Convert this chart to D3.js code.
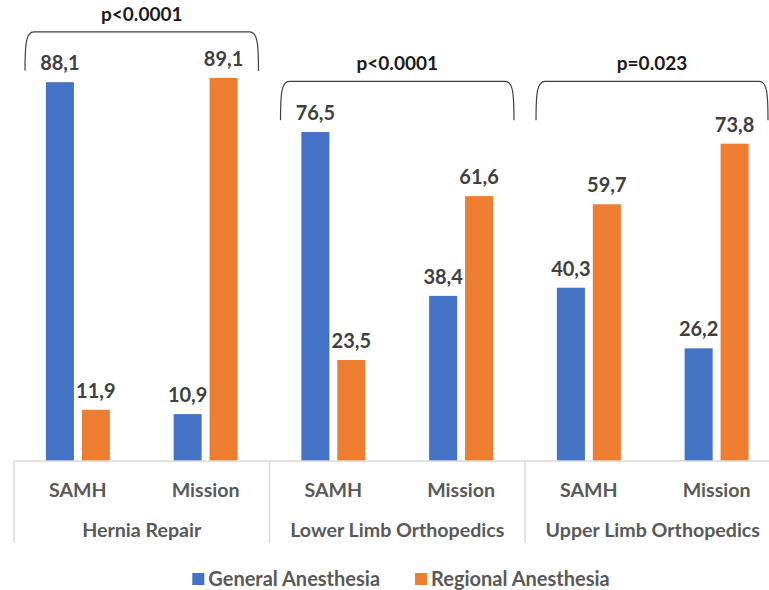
<!DOCTYPE html>
<html>
<head>
<meta charset="utf-8">
<script src="https://cdn.jsdelivr.net/npm/d3@7"></script>
<style>
  body { margin: 0; background: #fff; }
  text { font-family: Lato, "Open Sans", sans-serif; font-weight: bold; }
</style>
</head>
<body>
<div id="chart"></div>
<script>
// data
var groups = ["Hernia Repair", "Lower Limb Orthopedics", "Upper Limb Orthopedics"];
var sites = ["SAMH", "Mission"];
var seriesNames = ["General Anesthesia", "Regional Anesthesia"];
var generalValues = [88.1, 10.9, 76.5, 38.4, 40.3, 26.2];
var regionalValues = [11.9, 89.1, 23.5, 61.6, 59.7, 73.8];
var pValues = ["p<0.0001", "p<0.0001", "p=0.023"];

var colors = ["#4472C4", "#ED7D31"];
var width = 769, height = 590;

// layout
var baseY = 461, topY = 31;
var plotLeft = 14, plotRight = 780.5;   // last group runs past the right edge
var bracketLevel = [99.8, 88.3, 88.3];  // top of each bracket, in value units
var bracketDrop = 39;

var svg = d3.select("#chart")
  .append("svg")
    .attr("width", width)
    .attr("height", height);

// one band per group/site pair
var subcats = [];
groups.forEach(function(g, gi) {
  sites.forEach(function(s, si) {
    subcats.push({ id: gi + "-" + si, group: g, gi: gi, site: s });
  });
});

var x0 = d3.scaleBand()
  .domain(subcats.map(function(d) { return d.id; }))
  .range([plotLeft, plotRight])
  .padding(0);

var xg = d3.scaleBand()
  .domain(groups)
  .range([plotLeft, plotRight])
  .padding(0);

var x1 = d3.scaleBand()
  .domain(seriesNames)
  .range([x0.bandwidth() / 2 - 32, x0.bandwidth() / 2 + 32])
  .paddingInner(0.22);

var y = d3.scaleLinear()
  .domain([0, 100])
  .range([baseY, topY]);

// bars
var barData = [];
subcats.forEach(function(d, i) {
  barData.push({ id: d.id, s: seriesNames[0], v: generalValues[i], c: colors[0] });
  barData.push({ id: d.id, s: seriesNames[1], v: regionalValues[i], c: colors[1] });
});

var bars = svg.append("g");
bars.selectAll("rect")
  .data(barData)
  .enter()
  .append("rect")
    .attr("x", function(d) { return x0(d.id) + x1(d.s); })
    .attr("y", function(d) { return y(d.v); })
    .attr("width", x1.bandwidth())
    .attr("height", function(d) { return y(0) - y(d.v); })
    .attr("fill", function(d) { return d.c; });

// value labels
bars.selectAll(".val")
  .data(barData)
  .enter()
  .append("text")
    .attr("class", "val")
    .attr("x", function(d) { return x0(d.id) + x1(d.s) + x1.bandwidth() / 2; })
    .attr("y", function(d) { return y(d.v) - 12; })
    .attr("text-anchor", "middle")
    .style("font-size", "20px")
    .style("fill", "#404040")
    .text(function(d) { return d3.format(".1f")(d.v).replace(".", ","); });

// x axis with site names
var xAxis = svg.append("g")
  .attr("transform", "translate(0," + baseY + ")")
  .call(d3.axisBottom(x0)
    .tickSize(0)
    .tickPadding(22)
    .tickFormat(function(id) { return subcats.find(function(d) { return d.id === id; }).site; }));
xAxis.select(".domain").remove();
xAxis.selectAll("text")
  .style("font-size", "19.6px")
  .style("font-family", "Lato, 'Open Sans', sans-serif")
  .style("fill", "#595959");

svg.append("line")
  .attr("x1", plotLeft).attr("x2", width)
  .attr("y1", baseY).attr("y2", baseY)
  .attr("stroke", "#d9d9d9")
  .attr("stroke-width", 1.5);

// group separators and group names
var sepX = groups.map(function(g) { return xg(g); });
svg.selectAll(".sep")
  .data(sepX)
  .enter()
  .append("line")
    .attr("x1", function(d) { return d; })
    .attr("x2", function(d) { return d; })
    .attr("y1", baseY)
    .attr("y2", baseY + 82)
    .attr("stroke", "#d9d9d9")
    .attr("stroke-width", 1.5);

svg.selectAll(".grp")
  .data(groups)
  .enter()
  .append("text")
    .attr("x", function(d) { return xg(d) + xg.bandwidth() / 2; })
    .attr("y", baseY + 76)
    .attr("text-anchor", "middle")
    .style("font-size", "19.6px")
    .style("fill", "#595959")
    .text(function(d) { return d; });

// brackets with p-values
groups.forEach(function(g, i) {
  var xa = xg(g) + 11,
      xb = Math.min(xg(g) + xg.bandwidth() - 11, width - 1),
      yt = y(bracketLevel[i]),
      yb = yt + bracketDrop;
  var p = d3.path();
  p.moveTo(xa, yb);
  p.bezierCurveTo(xa, yt + 12, xa + 1, yt, xa + 9, yt);
  p.lineTo(xb - 9, yt);
  p.bezierCurveTo(xb - 1, yt, xb, yt + 12, xb, yb);
  svg.append("path")
    .attr("d", p.toString())
    .attr("fill", "none")
    .attr("stroke", "#404040")
    .attr("stroke-width", 1.2);
  svg.append("text")
    .attr("x", (xa + xb) / 2)
    .attr("y", yt - 11)
    .attr("text-anchor", "middle")
    .style("font-size", "19px")
    .style("fill", "#1a1a1a")
    .text(pValues[i]);
});

// legend
var legend = svg.append("g");
var items = legend.selectAll("g")
  .data(seriesNames)
  .enter()
  .append("g");
items.append("rect")
  .attr("width", 12)
  .attr("height", 12)
  .attr("y", 573)
  .attr("fill", function(d, i) { return colors[i]; });
items.append("text")
  .attr("x", 16)
  .attr("y", 586)
  .style("font-size", "20px")
  .style("fill", "#595959")
  .text(function(d) { return d; });

var widths = [];
items.each(function() { widths.push(this.getBBox().width); });
var gap = 35;
var total = d3.sum(widths) + gap;
var lx = 401 - total / 2;
items.attr("transform", function(d, i) {
  var t = "translate(" + lx + ",0)";
  lx += widths[i] + gap;
  return t;
});
</script>
</body>
</html>
